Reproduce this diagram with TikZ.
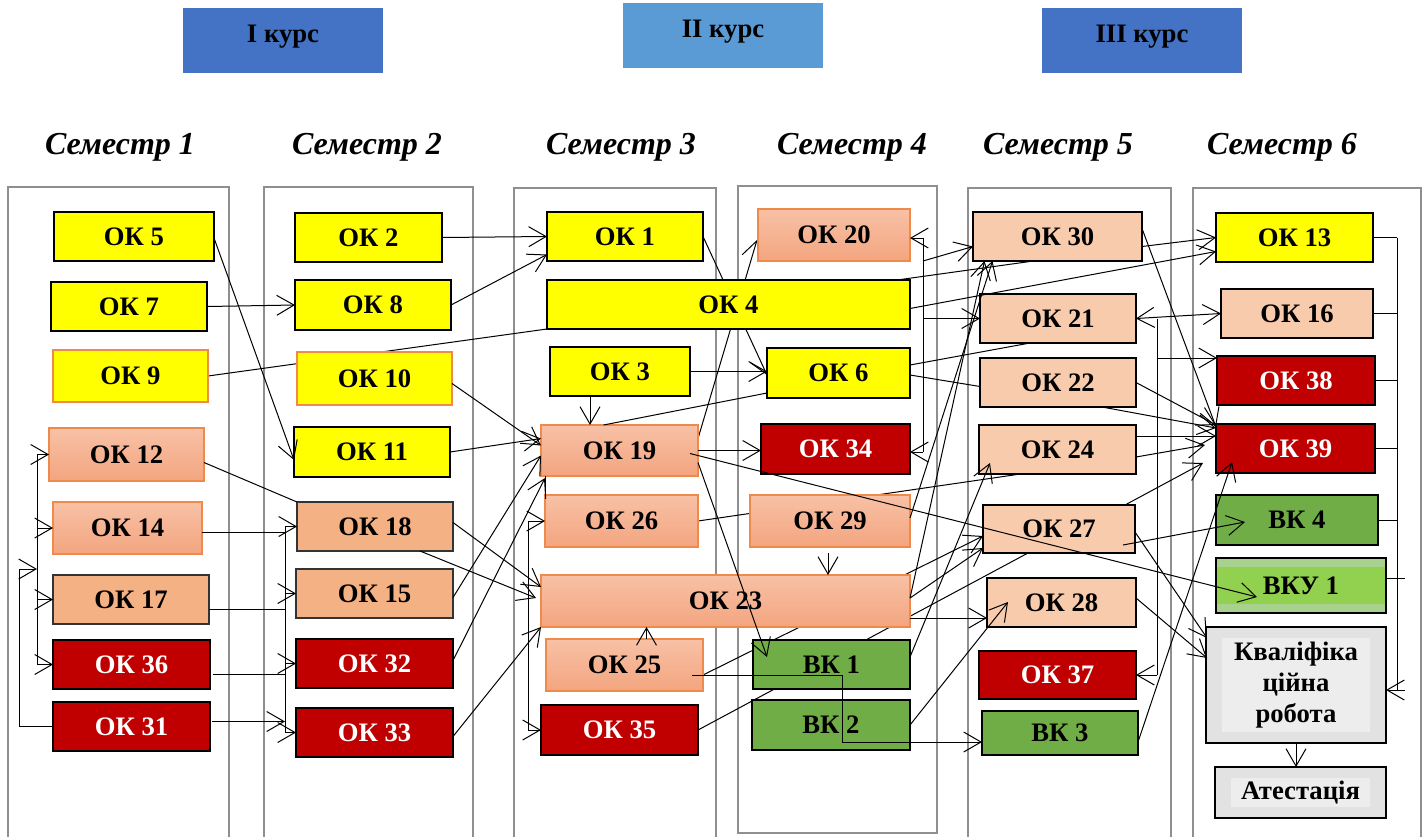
\documentclass[tikz,border=0pt]{standalone}
\usepackage{fontspec}
\setmainfont{Liberation Serif}
\usetikzlibrary{arrows.meta}
\pgfdeclarelayer{bg}
\pgfdeclarelayer{mid}
\pgfsetlayers{bg,mid,main}
\definecolor{yel}{HTML}{FFFF00}
\definecolor{dred}{HTML}{C00000}
\definecolor{grn}{HTML}{70AD47}
\definecolor{peach}{HTML}{F8CBAD}
\definecolor{tanc}{HTML}{F4B183}
\definecolor{salT}{HTML}{F8C1A6}
\definecolor{salB}{HTML}{F3A57F}
\definecolor{orng}{HTML}{F08A4B}
\definecolor{hblue}{HTML}{4472C4}
\definecolor{lblue}{HTML}{5B9BD5}
\definecolor{vku}{HTML}{92D050}
\definecolor{vkub}{HTML}{A9D18E}
\definecolor{gry}{HTML}{E2E2E2}
\definecolor{gryin}{HTML}{EDEDED}
\definecolor{frm}{HTML}{8F8F8F}
\newcommand\nodefont{\fontsize{20}{23}\selectfont\bfseries}
\newcommand\semfont{\fontsize{24}{28}\selectfont\bfseries\itshape}
\newcommand\hdfont{\fontsize{20}{23}\selectfont\bfseries}
\newcommand\mkbox[7]{\node[#6, minimum width={(#4-#2)*0.75pt}, minimum height={(#5-#3)*0.75pt}] (#1) at ({(#2+#4)/2},{(#3+#5)/2}) {#7};}
\begin{document}
\begin{tikzpicture}[x=0.75pt,y=-0.75pt,
  bxs/.style={inner sep=0pt, outer sep=0pt, font=\nodefont, line width=1.2pt, align=center},
  yb/.style={bxs, fill=yel, draw=black},
  yo/.style={bxs, fill=yel, draw=orng, line width=0.9pt},
  sg/.style={bxs, top color=salT, bottom color=salB, draw=orng, line width=0.9pt},
  tn/.style={bxs, fill=tanc, draw=black!80},
  pc/.style={bxs, fill=peach, draw=black},
  rd/.style={bxs, fill=dred, draw=black, text=white},
  gn/.style={bxs, fill=grn, draw=black},
  vk/.style={bxs, fill=vku, draw=black, path picture={
     \fill[vkub] (path picture bounding box.north west) rectangle ([yshift=-7pt]path picture bounding box.north east);
     \fill[vkub] (path picture bounding box.south west) rectangle ([yshift=7pt]path picture bounding box.south east);}},
  gb/.style={bxs, fill=gry, draw=black, path picture={
     \fill[gryin] ([shift={(12pt,-8pt)}]path picture bounding box.north west) rectangle ([shift={(-12pt,8pt)}]path picture bounding box.south east);}},
  hdr/.style={inner sep=0pt, minimum width=150pt, text height=25.5pt, text depth=23.25pt, font=\hdfont},
  sem/.style={inner sep=0pt, font=\semfont},
  frame/.style={draw=frm, line width=1.6pt},
  ln/.style={line width=0.75pt, black},
  arr/.style={ln, -{Straight Barb[length=13pt,width=15pt]}},
  arr2/.style={ln, {Straight Barb[length=13pt,width=15pt]}-{Straight Barb[length=13pt,width=15pt]}}
]
\path[use as bounding box] (0,0) rectangle (1427,836);

% headers
\node[hdr, fill=hblue] (h1) at (283,40.5) {I курс};
\node[hdr, fill=lblue] (h2) at (723,35.5) {II курс};
\node[hdr, fill=hblue] (h3) at (1142,40.5) {III курс};

% semesters
\node[sem] (s1) at (120,147) {Семестр 1};
\node[sem] (s2) at (367,147) {Семестр 2};
\node[sem] (s3) at (621,147) {Семестр 3};
\node[sem] (s4) at (852,147) {Семестр 4};
\node[sem] (s5) at (1058,147) {Семестр 5};
\node[sem] (s6) at (1282,147) {Семестр 6};

% column 1
\mkbox{ok5}{54}{212}{214}{261}{yb}{ОК 5}
\mkbox{ok7}{51}{282}{207}{331}{yb}{ОК 7}
\mkbox{ok9}{53}{350}{208}{402}{yo}{ОК 9}
\mkbox{ok12}{49}{428}{204}{481}{sg}{ОК 12}
\mkbox{ok14}{53}{502}{202}{554}{sg}{ОК 14}
\mkbox{ok17}{53}{575}{209}{624}{tn}{ОК 17}
\mkbox{ok36}{53}{640}{210}{689}{rd}{ОК 36}
\mkbox{ok31}{53}{702}{210}{751}{rd}{ОК 31}
% column 2
\mkbox{ok2}{295}{213}{442}{262}{yb}{ОК 2}
\mkbox{ok8}{295}{280}{451}{330}{yb}{ОК 8}
\mkbox{ok10}{297}{352}{452}{405}{yo}{ОК 10}
\mkbox{ok11}{294}{427}{450}{477}{yb}{ОК 11}
\mkbox{ok18}{297}{502}{453}{551}{tn}{ОК 18}
\mkbox{ok15}{296}{569}{453}{618}{tn}{ОК 15}
\mkbox{ok32}{296}{639}{453}{688}{rd}{ОК 32}
\mkbox{ok33}{296}{708}{453}{757}{rd}{ОК 33}
% column 3
\mkbox{ok1}{547}{212}{703}{261}{yb}{ОК 1}
\mkbox{ok4}{547}{280}{910}{329}{yb}{ОК 4}
\mkbox{ok3}{550}{347}{690}{396}{yb}{ОК 3}
\mkbox{ok19}{541}{425}{698}{476}{sg}{ОК 19}
\mkbox{ok26}{545}{495}{698}{547}{sg}{ОК 26}
\mkbox{ok23}{541}{575}{910}{627}{sg}{ОК 23}
\mkbox{ok25}{546}{639}{703}{691}{sg}{ОК 25}
\mkbox{ok35}{541}{705}{698}{755}{rd}{ОК 35}
% column 4
\mkbox{ok20}{758}{209}{910}{261}{sg}{ОК 20}
\mkbox{ok6}{767}{348}{910}{398}{yb}{ОК 6}
\mkbox{ok34}{761}{424}{910}{474}{rd}{ОК 34}
\mkbox{ok29}{750}{495}{910}{547}{sg}{ОК 29}
\mkbox{vk1}{753}{640}{910}{689}{gn}{ВК 1}
\mkbox{vk2}{752}{700}{910}{750}{gn}{ВК 2}
% column 5
\mkbox{ok30}{973}{212}{1142}{261}{pc}{ОК 30}
\mkbox{ok21}{980}{294}{1136}{343}{pc}{ОК 21}
\mkbox{ok22}{980}{358}{1136}{407}{pc}{ОК 22}
\mkbox{ok24}{979}{425}{1136}{474}{pc}{ОК 24}
\mkbox{ok27}{983}{505}{1135}{553}{pc}{ОК 27}
\mkbox{ok28}{987}{578}{1136}{627}{pc}{ОК 28}
\mkbox{ok37}{979}{651}{1136}{699}{rd}{ОК 37}
\mkbox{vk3}{982}{711}{1138}{755}{gn}{ВК 3}
% column 6
\mkbox{ok13}{1216}{213}{1373}{262}{yb}{ОК 13}
\mkbox{ok16}{1221}{289}{1373}{338}{pc}{ОК 16}
\mkbox{ok38}{1217}{356}{1375}{405}{rd}{ОК 38}
\mkbox{ok39}{1216}{424}{1375}{473}{rd}{ОК 39}
\mkbox{vk4}{1216}{495}{1378}{545}{gn}{ВК 4}
\mkbox{vku1}{1216}{558}{1386}{613}{vk}{ВКУ 1}
\mkbox{kval}{1206}{627}{1386}{743}{gb}{Кваліфіка\\ційна\\робота}
\mkbox{atest}{1215}{767}{1386}{818}{gb}{Атестація}

% frames
\begin{pgfonlayer}{bg}
\draw[frame] (8,187) rectangle (229,840);
\draw[frame] (264,187) rectangle (473,840);
\draw[frame] (514,188) rectangle (716,840);
\draw[frame] (738,186) rectangle (937,833);
\draw[frame] (968,188) rectangle (1171,840);
\draw[frame] (1193,188) rectangle (1421,840);
\end{pgfonlayer}

% lines passing behind boxes
\begin{pgfonlayer}{mid}
\draw[ln] (ok9.east) -- (ok4.south west);
\draw[arr] (ok1.east) -- ([shift={(0,2)}]ok6.west);
\draw[arr] ([shift={(0,-12)}]ok19.east) -- ([shift={(-1,5)}]ok20.west);
\draw[ln] (ok26.east) -- ([shift={(-37,0)}]ok24.south);
\draw[arr] ([shift={(0,10)}]ok25.east) -- ([shift={(0,7)}]ok27.west);
\draw[ln] (ok35.east) -- ([shift={(-31,0)}]ok27.south);
\end{pgfonlayer}

% column 1 bus
\coordinate (bus1) at (37,0);
\coordinate (c1a) at (19,569);
\coordinate (c1b) at (37,569);
\draw[ln] (bus1 |- ok12.west) -- (bus1 |- ok36.west);
\foreach \n in {ok12,ok14,ok17,ok36} \draw[arr] (bus1 |- \n.west) -- (\n.west);
\draw[arr] (ok31.west) -| (c1a) -- (c1b);

% column 2 bus
\coordinate (bus2) at (285,0);
\draw[ln] (bus2 |- ok18.west) -- (bus2 |- ok33.west);
\foreach \n in {ok18,ok15,ok32,ok33} \draw[arr] (bus2 |- \n.west) -- (\n.west);
\coordinate (o14) at ([shift={(0,4)}]ok14.east); \draw[ln] (o14) -- (o14 -| bus2);
\coordinate (o17) at ([shift={(0,10)}]ok17.east); \draw[ln] (o17) -- (o17 -| bus2);
\coordinate (o36) at ([shift={(3,10)}]ok36.east); \draw[ln] (o36) -- (o36 -| bus2);
\coordinate (o31) at ([shift={(2,-5)}]ok31.east); \draw[arr] (o31) -- (o31 -| bus2);

% column 3 bus
\coordinate (bus3) at (528,0);
\draw[ln] (bus3 |- ok26.west) -- (bus3 |- ok35.west);
\draw[arr] (bus3 |- ok26.west) -- (ok26.west);
\draw[arr] (bus3 |- ok35.west) -- (ok35.west);
\draw[ln] ([shift={(4,0)}]ok19.south west) -- (ok26.north west);

% column 4 bus
\coordinate (bus4) at (923,0);
\coordinate (t20) at ([shift={(0,3)}]ok20.east);
\coordinate (t34) at ([shift={(0,3)}]ok34.east);
\draw[ln] (t20 -| bus4) -- (t34 -| bus4);
\draw[arr] (t20 -| bus4) -- (t20);
\draw[arr] (t34 -| bus4) -- (t34);
\draw[arr] (bus4 |- ok20.south) -- ([shift={(0,10)}]ok30.west);
\draw[arr] (bus4 |- ok21.west) -- (ok21.west);

% column 5 bus
\coordinate (bus5) at (1157,0);
\coordinate (t38) at ([shift={(0,2)}]ok38.north west);
\draw[ln] (bus5 |- ok21.east) -- (bus5 |- ok37.east);
\draw[arr] (bus5 |- t38) -- (t38);
\draw[arr] (bus5 |- ok37.east) -- (ok37.east);
\draw[arr2] (ok21.east) -- (ok16.west);

% column 6 bus
\coordinate (bus6) at (1397,0);
\coordinate (tk) at ([shift={(0,5)}]kval.east);
\draw[ln] (bus6 |- ok13.east) -- (bus6 |- tk);
\foreach \n in {ok13,ok16,ok38,ok39,vk4} \draw[ln] (\n.east) -- (bus6 |- \n.east);
\coordinate (tv) at ([shift={(0,-7)}]vku1.east);
\draw[ln] (tv) -- ([shift={(19,0)}]tv);
\draw[arr] ([shift={(19,0)}]tk) -- (tk);
\draw[arr] (kval.south) -- (kval.south |- atest.north);

% semester 1 -> 2
\draw[arr] ([shift={(0,1.5)}]ok5.east) -- ([shift={(0,8)}]ok11.west);
\draw[arr] (ok7.east) -- (ok8.west);
\draw[ln] ([shift={(0,8)}]ok12.east) -- (ok18.north west);

% semester 2 -> 3
\draw[arr] (ok2.east) -- (ok1.west);
\draw[arr] (ok8.east) -- ([shift={(0,18)}]ok1.west);
\draw[arr] ([shift={(0,5)}]ok10.east) -- ([shift={(0,-5)}]ok19.west);
\draw[arr] (ok11.east) -- ([shift={(0,-12)}]ok19.west);
\draw[arr] ([shift={(0,-4)}]ok18.east) -- ([shift={(0,-14)}]ok23.west);
\draw[arr] ([shift={(-33,0)}]ok18.south east) -- ([shift={(-5,-3)}]ok23.west);
\draw[arr] ([shift={(0,4)}]ok15.east) -- ([shift={(0,5)}]ok19.west);
\draw[arr] ([shift={(0,-3)}]ok32.east) -- ([shift={(4,2)}]ok19.south west);
\draw[arr] ([shift={(0,4)}]ok33.east) -- (ok23.south west);

% semester 3 / 4
\coordinate (a3) at ([shift={(-30,0)}]ok3.south);
\draw[arr] (a3) -- (a3 |- ok19.north);
\draw[arr] (ok3.east) -- (ok3.east -| ok6.west);
\draw[arr] (ok19.east) -- (ok19.east -| ok34.west);
\draw[arr] ([shift={(-8,3)}]ok19.east) -- ([shift={(41,11.5)}]vku1.west);
\draw[arr] ([shift={(0,12)}]ok19.east) -- ([shift={(14,-7.5)}]vk1.west);
\draw[ln] ([shift={(0,-5)}]ok6.south west) -- ([shift={(-16,0)}]ok19.north);
\coordinate (a29) at ([shift={(-2,6)}]ok29.south);
\draw[arr] (a29) -- (a29 |- ok23.north);
\coordinate (a25) at ([shift={(22,0)}]ok25.north);
\draw[arr] (a25) -- (a25 |- ok23.south);
\coordinate (s25) at ([shift={(-11,10)}]ok25.east);
\coordinate (e3) at ([shift={(0,9)}]vk3.west);
\coordinate (c25) at (842,0);
\draw[arr] (s25) -| (c25 |- e3) -- (e3);

% semester 4 -> 5
\draw[ln] ([shift={(-13,0)}]ok4.north east) -- ([shift={(-24,0)}]ok30.south);
\draw[arr] ([shift={(0,4)}]ok4.east) -- ([shift={(0,14)}]ok13.west);
\draw[ln] ([shift={(0,-8)}]ok6.east) -- ([shift={(-28,0)}]ok21.south);
\draw[ln] ([shift={(0,2)}]ok6.east) -- ([shift={(0,4)}]ok22.west);
\draw[arr] ([shift={(0,-3)}]ok29.east) -- ([shift={(-65,0)}]ok30.south);
\draw[arr] ([shift={(0,-3)}]ok23.east) -- ([shift={(-73,0)}]ok30.south);
\draw[arr] ([shift={(0,-3)}]ok23.east) -- ([shift={(0,19)}]ok27.west);
\coordinate (o23) at ([shift={(0,17)}]ok23.east);
\draw[arr] (o23) -- (o23 -| ok28.west);
\draw[arr] ([shift={(0,-7.5)}]vk1.east) -- ([shift={(11,-11)}]ok24.south west);
\draw[arr] (vk2.east) -- ([shift={(21,24)}]ok28.north west);

% semester 5 -> 6
\draw[arr] ([shift={(0,10)}]ok30.east) -- (ok13.west);
\draw[arr] ([shift={(0,-8)}]ok30.east) -- ([shift={(0,3)}]ok39.north west);
\draw[arr] (ok22.east) -- ([shift={(0,1)}]ok39.north west);
\draw[arr] ([shift={(-34,0)}]ok22.south east) -- ([shift={(0,4)}]ok39.north west);
\coordinate (o24) at ([shift={(0,-13.5)}]ok24.east);
\draw[arr] (o24) -- (o24 -| ok39.west);
\draw[arr] ([shift={(0,7.5)}]ok24.east) -- ([shift={(-11,-3.5)}]ok39.west);
\draw[arr] ([shift={(-10,0)}]ok27.north east) -- ([shift={(-13,14.5)}]ok39.west);
\draw[arr] ([shift={(0,9)}]vk3.east) -- ([shift={(16,-11)}]ok39.south west);
\draw[arr] ([shift={(-12,16)}]ok27.east) -- ([shift={(29,2)}]vk4.west);
\draw[arr] ([shift={(0,3)}]ok27.east) -- ([shift={(1,11)}]kval.north west);
\draw[arr] ([shift={(0,-4.5)}]ok28.east) -- ([shift={(1,31)}]kval.north west);
\end{tikzpicture}
\end{document}
